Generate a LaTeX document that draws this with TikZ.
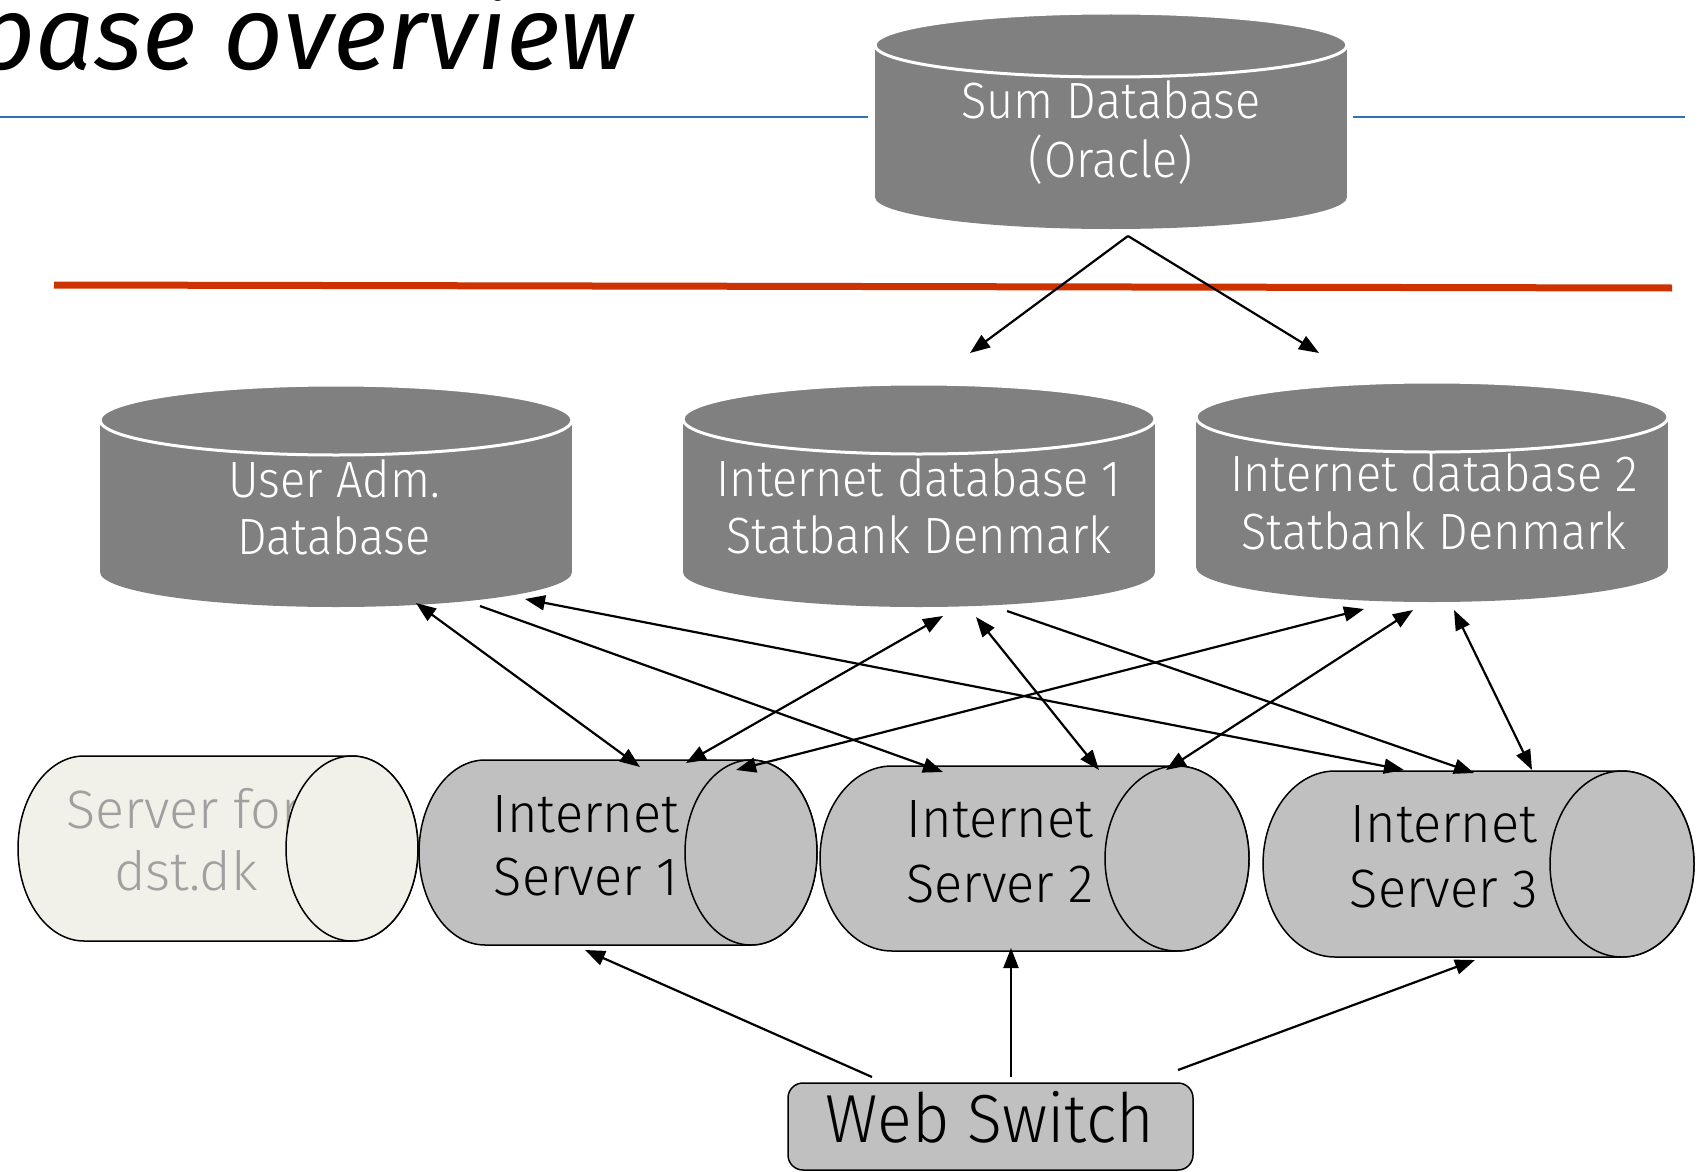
\documentclass[tikz,border=0pt]{standalone}
\usepackage{fontspec}
\setmainfont{Fira Sans}
\newfontfamily\lightfont{Fira Sans Light}
\usetikzlibrary{arrows.meta,calc}
\definecolor{dbgray}{HTML}{808080}
\definecolor{srvgray}{HTML}{C0C0C0}
\definecolor{egg}{HTML}{F2F1E9}
\definecolor{bluel}{HTML}{2E74B5}
\definecolor{redl}{HTML}{CC3300}
\definecolor{dsttext}{HTML}{A0A0A0}
\newcommand\narrow[2]{\scalebox{#1}[1]{#2}}
% vertical database cylinder: name, left x, top y, width, height, ry
\newcommand\vcyl[6]{%
  \node[shapebox, minimum width=#4, minimum height=#5] (#1) at (#2,#3) {};
  \fill[dbgray] ($(#1.north west)+(0,#6)$) rectangle ($(#1.south east)+(0,-#6)$);
  \fill[dbgray] ($(#1.south)+(0,-#6)$) ellipse[x radius=#4/2, y radius=#6];
  \filldraw[dbgray, draw=white, line width=3pt] ($(#1.north)+(0,#6)$) ellipse[x radius=#4/2, y radius=#6];
}
% horizontal server cylinder body: name, left x, top y, width, height, rx, fill
\newcommand\hcylbody[7]{%
  \node[shapebox, minimum width=#4, minimum height=#5] (#1) at (#2,#3) {};
  \filldraw[fill=#7, srvline] ($(#1.north west)+(#6,0)$)
    arc[start angle=270, end angle=90, x radius=#6, y radius=#5/2]
    -- ($(#1.south east)+(-#6,0)$)
    arc[start angle=90, end angle=-90, x radius=#6, y radius=#5/2] -- cycle;
}
% cap (right ellipse): name, height, rx, fill
\newcommand\hcylcap[4]{%
  \filldraw[fill=#4, srvline] ($(#1.east)+(-#3,0)$) ellipse[x radius=#3, y radius=#2/2];
}
\begin{document}
\begin{tikzpicture}[x=1pt,y=-1pt,
  shapebox/.style={rectangle, draw=none, inner sep=0pt, outer sep=0pt, anchor=north west},
  srvline/.style={draw=black, line width=1.5pt},
  dbtxt/.style={font=\lightfont\fontsize{51}{51}\selectfont, text=white, anchor=base, inner sep=0pt},
  srvtxt/.style={font=\lightfont\fontsize{54}{54}\selectfont, text=black, anchor=base, inner sep=0pt},
  link/.style={line width=2.2pt, -{Triangle[length=20pt,width=15pt]}},
  blink/.style={line width=2.2pt, {Triangle[length=20pt,width=15pt]}-{Triangle[length=20pt,width=15pt]}}]
\useasboundingbox (0,0) rectangle (1706,1172);
\fill[white] (0,0) rectangle (1706,1172);

% title and rules
\node[anchor=base east, inner sep=0pt, font=\itshape\fontsize{104}{104}\selectfont] (title) at (634,70) {base overview};
\draw[bluel, line width=2pt] (0,117) -- (868,117);
\draw[bluel, line width=2pt] (1353,117) -- (1685,117);

% sum database
\vcyl{sumdb}{875}{13}{472}{216}{32}
\node[dbtxt] (sumt1) at (1111,118) {\narrow{0.92}{Sum Database}};
\node[dbtxt] (sumt2) at (1111,177) {\narrow{0.92}{(Oracle)}};

\draw[redl, line width=7pt] (54,285) -- (1672,288);

% databases
\vcyl{udb}{100}{385}{472}{222}{35}
\node[dbtxt] (udbt1) at (334,497) {\narrow{0.92}{User Adm.}};
\node[dbtxt] (udbt2) at (334,554) {\narrow{0.92}{Database}};

\vcyl{idb1}{683}{384}{472}{223}{35}
\node[dbtxt] (idb1t1) at (919,496) {\narrow{0.92}{Internet database 1}};
\node[dbtxt] (idb1t2) at (919,553) {\narrow{0.92}{Statbank Denmark}};

\vcyl{idb2}{1196}{382}{472}{220}{35}
\node[dbtxt] (idb2t1) at (1434,491) {\narrow{0.92}{Internet database 2}};
\node[dbtxt] (idb2t2) at (1434,549) {\narrow{0.92}{Statbank Denmark}};

% servers
\hcylbody{dst}{18}{756}{400}{185}{66}{egg}
\node[srvtxt, text=dsttext] (dstt1) at (184,828) {Server for};
\node[srvtxt, text=dsttext] (dstt2) at (186,890) {dst.dk};
\hcylcap{dst}{185}{66}{egg}

\hcylbody{s1}{419}{760}{398}{185}{66}{srvgray}
\node[srvtxt] (s1t1) at (586,832) {\narrow{0.97}{Internet}};
\node[srvtxt] (s1t2) at (586,895) {\narrow{0.97}{Server 1}};
\hcylcap{s1}{185}{66}{srvgray}

\hcylbody{s2}{820}{766}{429}{185}{72}{srvgray}
\node[srvtxt] (s2t1) at (1000,837) {\narrow{0.97}{Internet}};
\node[srvtxt] (s2t2) at (1000,902) {\narrow{0.97}{Server 2}};
\hcylcap{s2}{185}{72}{srvgray}

\hcylbody{s3}{1263}{771}{431}{186}{72}{srvgray}
\node[srvtxt] (s3t1) at (1444,842) {\narrow{0.97}{Internet}};
\node[srvtxt] (s3t2) at (1444,907) {\narrow{0.97}{Server 3}};
\hcylcap{s3}{186}{72}{srvgray}

% web switch
\node[shapebox, minimum width=405, minimum height=87, rounded corners=15pt, fill=srvgray, draw=black, line width=1.5pt] (ws) at (788,1083) {};
\node[anchor=base, inner sep=0pt, font=\lightfont\fontsize{68}{68}\selectfont] (wst) at (990,1142) {\narrow{0.95}{Web Switch}};

% connectors from sum database
\draw[link] ($(sumdb.north west)+(253,223)$) -- ($(idb1.north west)+(287,-31)$);
\draw[link] ($(sumdb.north west)+(253,223)$) -- ($(idb2.north west)+(123,-29)$);

% connectors database <-> servers
\draw[blink] ($(udb.north west)+(316,218)$) -- ($(s1.north west)+(221,7)$);
\draw[link]  ($(udb.north west)+(380,221)$) -- ($(s2.north west)+(123,6)$);
\draw[blink] ($(udb.north west)+(425,214)$) -- ($(s3.north west)+(141,-1)$);
\draw[blink] ($(s1.north west)+(267,3)$) -- ($(idb1.north west)+(260,232)$);
\draw[blink] ($(s1.north west)+(317,10)$) -- ($(idb2.north west)+(168,227)$);
\draw[blink] ($(idb1.north west)+(293,233)$) -- ($(s2.north west)+(279,4)$);
\draw[link]  ($(idb1.north west)+(324,227)$) -- ($(s3.north west)+(211,2)$);
\draw[blink] ($(s2.north west)+(346,4)$) -- ($(idb2.north west)+(217,228)$);
\draw[blink] ($(idb2.north west)+(258,228)$) -- ($(s3.north west)+(269,-1)$);

% connectors web switch -> servers
\draw[link] ($(ws.north west)+(84,-6)$) -- ($(s1.north west)+(166,190)$);
\draw[link] ($(ws.north west)+(223,-6)$) -- ($(s2.north west)+(191,182)$);
\draw[link] ($(ws.north west)+(390,-13)$) -- ($(s3.north west)+(212,189)$);
\end{tikzpicture}
\end{document}
